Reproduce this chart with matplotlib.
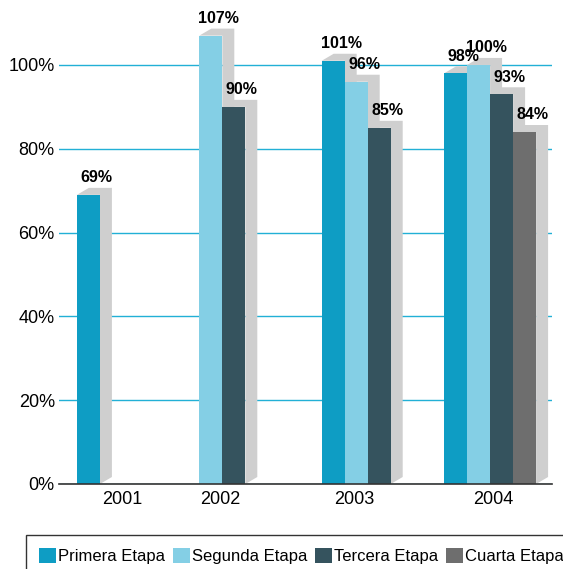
import numpy as np
import matplotlib
matplotlib.use("Agg")
import matplotlib.pyplot as plt
from matplotlib.patches import Patch

plt.rcParams['font.family'] = ['Liberation Sans', 'DejaVu Sans']

# Data (percent); None = no bar
years = ['2001', '2002', '2003', '2004']
series = ['Primera Etapa', 'Segunda Etapa', 'Tercera Etapa', 'Cuarta Etapa']
primera = [69, None, 101, 98]
segunda = [None, 107, 96, 100]
tercera = [None, 90, 85, 93]
cuarta = [None, None, None, 84]
values = [primera, segunda, tercera, cuarta]

colors = ['#0e9dc4', '#84cfe5', '#35535e', '#6e6e6e']
side_color = '#cfcfcf'
grid_color = '#22b0d6'

# layout (bar width = 1 unit)
group_start = 0.78
group_pitch = 5.32
dx, dy = 0.52, 1.67          # 3d depth offsets
label_x = [2.74, 7.0, 12.83, 18.87]

fig = plt.figure(figsize=(5.63, 5.69), dpi=100)
ax = fig.add_axes([59/563, 85/569, 493/563, 484/569])
ax.set_xlim(0, 21.43)
ax.set_ylim(0, 115.5)

z = 3
for g, year in enumerate(years):
    x = group_start + g * group_pitch
    for s in range(len(series)):
        v = values[s][g]
        if v is None:
            continue
        x0, x1 = x, x + 1
        # side + top faces
        ax.fill([x0, x0 + dx, x1 + dx, x1 + dx, x1, x1],
                [v, v + dy, v + dy, dy, 0, v],
                color=side_color, lw=0, zorder=z)
        ax.bar(x0, v, width=1, align='edge', color=colors[s], lw=0, zorder=z + 1)
        ax.text(x0 + (1 + dx) / 2 + 0.08, v + dy + 0.6, f'{v}%',
                ha='center', va='bottom', fontsize=11.5, fontweight='bold',
                zorder=100, clip_on=False)
        z += 2
        x += 1

ax.set_yticks(range(0, 101, 20))
ax.set_yticklabels([f'{t}%' for t in range(0, 101, 20)])
ax.set_xticks(label_x)
ax.set_xticklabels(years)
ax.tick_params(axis='y', length=0, pad=3, labelsize=13)
ax.tick_params(axis='x', length=0, pad=5, labelsize=13)
ax.yaxis.grid(True, color=grid_color, lw=1.0)
ax.set_axisbelow(True)
for side in ['left', 'top', 'right']:
    ax.spines[side].set_visible(False)
ax.spines['bottom'].set_color('#333333')
ax.spines['bottom'].set_linewidth(1.2)
ax.spines['bottom'].set_zorder(50)

handles = [Patch(facecolor=c, edgecolor='none') for c in colors]
leg = fig.legend(handles, series, loc='upper left',
                 bbox_to_anchor=(26/563, 1 - 535/569), ncol=4, fontsize=12,
                 handlelength=1.0, handleheight=1.0, handletextpad=0.15,
                 columnspacing=0.45, borderpad=0.8, borderaxespad=0,
                 fancybox=False, frameon=True)
leg.get_frame().set_edgecolor('black')
leg.get_frame().set_linewidth(1.0)

fig.savefig('out.png', dpi=100)
